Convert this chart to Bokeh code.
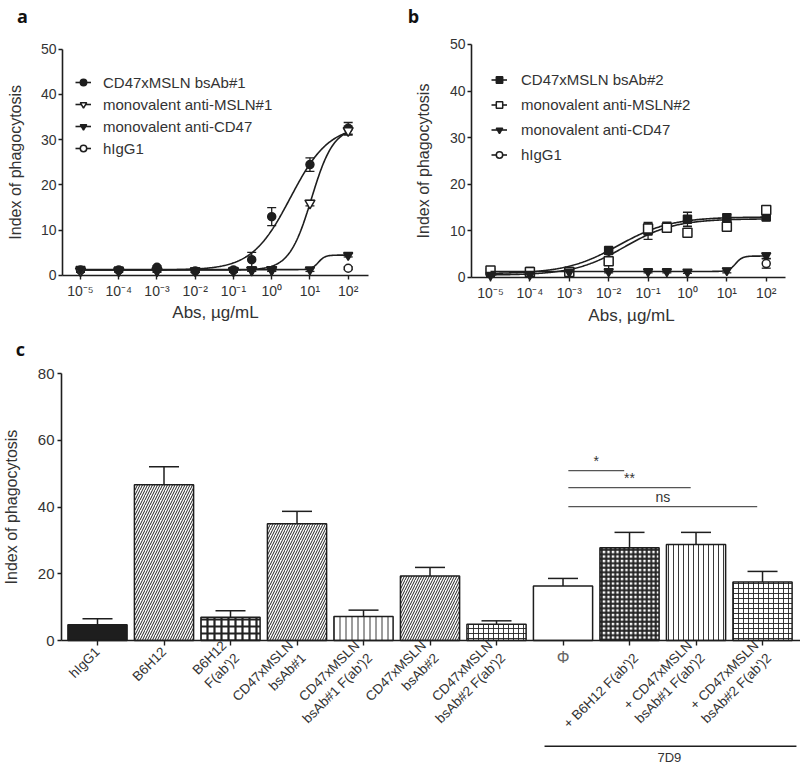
import math
import numpy as np
from bokeh.plotting import figure
from bokeh.models import (ColumnDataSource, Whisker, TeeHead, Legend, LegendItem,
                          FixedTicker, Range1d)
from bokeh.layouts import column, row
from bokeh.embed import file_html
from bokeh.resources import INLINE
from bokeh.core.properties import value

FONT = "Liberation Sans"
INK = "#1e1e1e"
TXT = "#333333"

# ---------------- data: panel a ----------------
conc = [1e-5, 1e-4, 1e-3, 1e-2, 1e-1, 0.3, 1.0, 10.0, 100.0]
conc_ctrl = [100.0]
a_bsab1 = [1.2, 1.2, 1.8, 1.0, 1.2, 3.5, 13.0, 24.5, 32.5]
a_bsab1_err = [0.4, 0.3, 0.3, 0.3, 0.3, 1.6, 2.0, 1.5, 1.3]
a_msln1 = [1.0, 1.0, 1.0, 1.0, 1.0, 1.2, 1.3, 16.0, 32.0]
a_msln1_err = [0.3, 0.3, 0.3, 0.3, 0.3, 0.3, 0.3, 0.6, 1.0]
a_cd47 = [1.4, 1.3, 1.2, 1.1, 1.2, 1.3, 1.2, 1.3, 4.5]
a_cd47_err = [0.3, 0.3, 0.3, 0.3, 0.3, 0.3, 0.3, 0.4, 0.4]
a_higg1 = [1.6]
a_higg1_err = [0.3]
# 4-parameter logistic fits (bottom, top, logEC50, hill)
a_fit_bsab1 = (1.2, 33.2, 0.49, 0.86)
a_fit_msln1 = (1.2, 32.8, 1.04, 1.5)
a_fit_cd47 = (1.3, 4.5, 1.22, 5.0)
a_labels = ["CD47xMSLN bsAb#1", "monovalent anti-MSLN#1", "monovalent anti-CD47", "hIgG1"]

# ---------------- data: panel b ----------------
b_bsab2 = [1.2, 1.3, 1.3, 5.8, 10.0, 10.9, 12.5, 12.8, 13.0]
b_bsab2_err = [0.5, 0.5, 0.4, 0.6, 1.8, 1.0, 1.5, 0.8, 0.8]
b_msln2 = [1.5, 1.2, 1.2, 3.5, 10.5, 10.7, 9.6, 10.9, 14.5]
b_msln2_err = [0.4, 0.3, 0.3, 1.7, 1.0, 0.8, 0.6, 0.7, 0.5]
b_cd47 = [0.5, 0.6, 1.2, 1.3, 1.3, 1.3, 1.2, 1.5, 4.7]
b_cd47_err = [0.3, 0.3, 0.3, 0.3, 0.3, 0.3, 0.3, 0.5, 0.6]
b_higg1 = [3.0]
b_higg1_err = [1.0]
b_fit_bsab2 = (0.8, 13.0, -1.75, 0.65)
b_fit_msln2 = (0.5, 12.6, -1.6, 0.68)
b_fit_cd47 = (1.3, 4.6, 1.22, 5.0)
b_labels = ["CD47xMSLN bsAb#2", "monovalent anti-MSLN#2", "monovalent anti-CD47", "hIgG1"]

x_tick_pos = [-5, -4, -3, -2, -1, 0, 1, 2]
x_tick_text = ["10\u207b\u2075", "10\u207b\u2074", "10\u207b\u00b3", "10\u207b\u00b2",
               "10\u207b\u00b9", "10\u2070", "10\u00b9", "10\u00b2"]
y_ticks_ab = [0, 10, 20, 30, 40, 50]

# ---------------- data: panel c ----------------
c_labels = ["hIgG1", "B6H12", "B6H12\nF(ab')2", "CD47xMSLN\nbsAb#1",
            "CD47xMSLN\nbsAb#1 F(ab')2", "CD47xMSLN\nbsAb#2", "CD47xMSLN\nbsAb#2 F(ab')2",
            "\u03a6", "+ B6H12 F(ab')2", "+ CD47xMSLN\nbsAb#1 F(ab')2",
            "+ CD47xMSLN\nbsAb#2 F(ab')2"]
c_values = [4.7, 46.7, 7.0, 35.0, 7.2, 19.3, 4.9, 16.3, 27.8, 28.8, 17.5]
c_err = [1.8, 5.4, 1.9, 3.7, 1.9, 2.6, 1.0, 2.3, 4.6, 3.6, 3.2]
c_y_ticks = [0, 20, 40, 60, 80]
c_group_label = "7D9"
c_group = [7, 10]
sig_text = ["*", "**", "ns"]
sig_from = [7, 7, 7]
sig_to = [8, 9, 10]
sig_level = [50.9, 45.8, 40.1]

# styles (not data)
c_fill = ["#1e1e1e", "white", "white", "white", "white", "white", "white", "white",
          "white", "white", "white"]
c_hatch = [" ", "/", "+", "/", "|", "/", "+", " ", "+", "|", "+"]
c_hscale = [6, 5, 7, 5, 6, 5, 5, 6, 4.5, 5, 5]
c_hweight = [1, 1.0, 2.2, 1.0, 0.9, 1.0, 0.9, 1, 2.0, 0.9, 0.9]

Y_LABEL = "Index of phagocytosis"
X_LABEL = "Abs, \u00b5g/mL"


def logistic(params, lx):
    b, t, ec, h = params
    return b + (t - b) / (1.0 + 10.0 ** ((ec - lx) * h))


def style_axes(p):
    for ax in p.axis:
        ax.axis_line_color = INK
        ax.axis_line_width = 1.6
        ax.major_tick_line_color = INK
        ax.major_tick_line_width = 1.4
        ax.major_tick_out = 4
        ax.major_tick_in = 0
        ax.minor_tick_line_color = None
        ax.major_label_text_font = FONT
        ax.major_label_text_color = TXT
    p.xgrid.visible = False
    p.ygrid.visible = False
    p.outline_line_color = None


def add_text(p, x, y, txt, size, angle=0.0, bold=False, color=TXT, font=FONT,
             align="center", baseline="middle"):
    p.text(x=[x], y=[y], text=[txt], angle=angle, text_font=value(font),
           text_font_size=size, text_color=color, text_align=align, text_baseline=baseline,
           text_font_style="bold" if bold else "normal")


def dose_panel(width, height, xr, yr, xbounds, letter, series, labels, leg_xy, leg_row,
               leg_standoff, letter_xy, ylab_xy, xlab_xy):
    p = figure(width=width, height=height, output_backend="svg", toolbar_location=None,
               title=None, x_range=Range1d(*xr), y_range=Range1d(*yr),
               min_border_left=0, min_border_right=0, min_border_top=0,
               min_border_bottom=0, background_fill_color="white",
               border_fill_color="white")
    xs = np.linspace(-5, 2, 300)
    items = []
    for (xc, vals, errs, fit, marker, size, filled), lab in zip(series, labels):
        lxc = np.log10(xc)
        if fit is not None:
            lr = p.line(xs, logistic(fit, xs), line_color=INK, line_width=1.6)
        else:
            # control measured at a single dose: a one-point line (no visible curve)
            lr = p.line(lxc, vals, line_color=INK, line_width=1.6)
        src = ColumnDataSource(dict(x=lxc, y=vals,
                                    lo=np.array(vals) - np.array(errs),
                                    hi=np.array(vals) + np.array(errs)))
        w = Whisker(source=src, base="x", upper="hi", lower="lo", line_color=INK,
                    line_width=1.3,
                    upper_head=TeeHead(size=9, line_color=INK, line_width=1.3),
                    lower_head=TeeHead(size=9, line_color=INK, line_width=1.3))
        p.add_layout(w)
        sr = p.scatter("x", "y", source=src, marker=marker, size=size, line_color=INK,
                       line_width=1.5, fill_color=INK if filled else "white")
        items.append(LegendItem(label=lab, renderers=[lr, sr]))
    leg = Legend(items=items, location=leg_xy, glyph_width=16, glyph_height=leg_row - 4,
                 label_height=leg_row - 4, spacing=4, padding=0, margin=0,
                 label_standoff=leg_standoff, border_line_alpha=0, background_fill_alpha=0,
                 label_text_font=FONT, label_text_font_size="15px", label_text_color=TXT)
    p.add_layout(leg)
    p.xaxis.fixed_location = 0
    p.xaxis.bounds = xbounds
    p.xaxis.ticker = FixedTicker(ticks=x_tick_pos)
    p.xaxis.major_label_overrides = dict(zip(x_tick_pos, x_tick_text))
    p.xaxis.major_label_text_font_size = "14px"
    p.xaxis.major_label_standoff = 4
    p.yaxis.fixed_location = xbounds[0]
    p.yaxis.bounds = (y_ticks_ab[0], y_ticks_ab[-1])
    p.yaxis.ticker = FixedTicker(ticks=y_ticks_ab)
    p.yaxis.major_label_text_font_size = "14px"
    p.yaxis.major_label_standoff = 2
    style_axes(p)
    add_text(p, ylab_xy[0], ylab_xy[1], Y_LABEL, "16px", angle=math.pi / 2)
    add_text(p, xlab_xy[0], xlab_xy[1], X_LABEL, "17px")
    add_text(p, letter_xy[0], letter_xy[1], letter, "18px", bold=True, color="#111111",
             font="Open Sans")
    return p


series_a = [(conc, a_bsab1, a_bsab1_err, a_fit_bsab1, "circle", 8, True),
            (conc, a_msln1, a_msln1_err, a_fit_msln1, "inverted_triangle", 10, False),
            (conc, a_cd47, a_cd47_err, a_fit_cd47, "inverted_triangle", 9, True),
            (conc_ctrl, a_higg1, a_higg1_err, None, "circle", 8, False)]
series_b = [(conc, b_bsab2, b_bsab2_err, b_fit_bsab2, "square", 8, True),
            (conc, b_msln2, b_msln2_err, b_fit_msln2, "square", 9, False),
            (conc, b_cd47, b_cd47_err, b_fit_cd47, "inverted_triangle", 9, True),
            (conc_ctrl, b_higg1, b_higg1_err, None, "circle", 8, False)]

pa = dose_panel(400, 335, (-7.092, 3.368), (-13.254, 60.747), (-5.471, 2.531), "a",
                series_a, a_labels, (75, 178), 22, 12,
                (-6.517, 57.4), (-6.70, 25.0), (-1.47, -8.2))
pb = dose_panel(400, 335, (-7.285, 2.870), (-12.446, 59.44), (-5.482, 2.489), "b",
                series_b, b_labels, (91, 170), 25, 14,
                (-6.955, 56.2), (-6.70, 25.0), (-1.42, -8.2))

# ---------------- panel c ----------------
idx = list(range(len(c_values)))
pc = figure(width=800, height=432, output_backend="svg", toolbar_location=None, title=None,
            x_range=Range1d(-1.4586, 10.571), y_range=Range1d(-38.05, 91.39),
            min_border_left=0, min_border_right=0, min_border_top=0, min_border_bottom=0,
            background_fill_color="white", border_fill_color="white")
csrc = ColumnDataSource(dict(x=idx, top=c_values, hi=np.array(c_values) + np.array(c_err),
                             fill=c_fill, hatch=c_hatch, hs=c_hscale, hw=c_hweight))
pc.add_layout(Whisker(source=csrc, base="x", upper="hi", lower="top", line_color=INK,
                      line_width=1.5,
                      upper_head=TeeHead(size=30, line_color=INK, line_width=1.5),
                      lower_head=None))
pc.vbar(x="x", top="top", width=0.89, source=csrc, fill_color="fill", line_color=INK,
        line_width=1.5, hatch_pattern="hatch", hatch_scale="hs", hatch_weight="hw",
        hatch_color="#222222")
# significance brackets
sx0 = [a + 0.08 for a in sig_from]
sx1 = [b - 0.08 for b in sig_to]
pc.segment(x0=sx0, y0=sig_level, x1=sx1, y1=sig_level, line_color="#555555", line_width=1.2)
pc.text(x=[(a + b) / 2 for a, b in zip(sx0, sx1)], y=[v + 0.5 for v in sig_level],
        text=sig_text, text_align="center", text_baseline="bottom",
        text_font_size="14px", text_color=TXT, text_font=value(FONT))

pc.xaxis.fixed_location = 0
pc.xaxis.bounds = (-0.541, 10.571)
pc.xaxis.ticker = FixedTicker(ticks=idx)
overrides = {i: lab for i, lab in zip(idx, c_labels)}
overrides[7] = ""
overrides[8] = "\n" + c_labels[8]
pc.xaxis.major_label_overrides = overrides
pc.xaxis.major_label_orientation = math.pi / 4
pc.xaxis.major_label_text_font_size = "13.5px"
pc.xaxis.major_label_standoff = 4
pc.yaxis.fixed_location = -0.541
pc.yaxis.bounds = (c_y_ticks[0], c_y_ticks[-1])
pc.yaxis.ticker = FixedTicker(ticks=c_y_ticks)
pc.yaxis.major_label_text_font_size = "15px"
pc.yaxis.major_label_standoff = 3
style_axes(pc)
pc.xaxis.major_tick_out = 5

add_text(pc, -1.30, 40.0, Y_LABEL, "16px", angle=math.pi / 2)
add_text(pc, 7, -5.1, c_labels[7], "16px", color="#666666")
pc.segment(x0=[c_group[0] - 0.278], y0=[-31.67], x1=[c_group[1] + 0.51], y1=[-31.67],
           line_color=INK, line_width=1.4)
add_text(pc, (c_group[0] + c_group[1]) / 2 + 0.1, -35.0, c_group_label, "13px")
add_text(pc, -1.158, 87.3, "c", "18px", bold=True, color="#111111", font="Open Sans")

layout = column(row(pa, pb, spacing=0), pc, spacing=0)
open("out.html", "w").write(file_html(layout, INLINE))
